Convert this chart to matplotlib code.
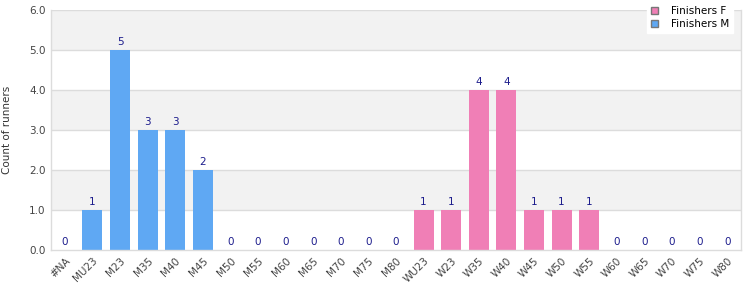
import matplotlib
matplotlib.use("Agg")
import matplotlib.pyplot as plt
from matplotlib.patches import Patch

categories = ["#NA", "MU23", "M23", "M35", "M40", "M45", "M50", "M55", "M60", "M65", "M70", "M75", "M80",
              "WU23", "W23", "W35", "W40", "W45", "W50", "W55", "W60", "W65", "W70", "W75", "W80"]
male_values = [0, 1, 5, 3, 3, 2, 0, 0, 0, 0, 0, 0, 0]
female_values = [1, 1, 4, 4, 1, 1, 1, 0, 0, 0, 0, 0]
yticks = [0, 1, 2, 3, 4, 5, 6]

blue = "#5fa8f3"
pink = "#f07fb6"
label_color = "#1c1c8c"
grid_color = "#dcdcdc"

fig = plt.figure(figsize=(7.5, 3.0), dpi=100)
ax = fig.add_axes([51/750, 1 - 250/300, 690/750, 240/300])

n_m = len(male_values)
xs_m = list(range(n_m))
xs_f = list(range(n_m, n_m + len(female_values)))
values = male_values + female_values
colors = [blue] * n_m + [pink] * len(female_values)
xs = xs_m + xs_f

ax.set_xlim(-0.5, len(categories) - 0.5)
ax.set_ylim(0, 6)

# alternating background bands
for i in range(6):
    if i % 2 == 1:
        ax.axhspan(i, i + 1, color="#f2f2f2", zorder=0, lw=0)
for y in yticks[1:]:
    ax.axhline(y, color=grid_color, lw=1, zorder=1)

ax.bar(xs, values, width=0.72, color=colors, zorder=2)
for x, v in zip(xs, values):
    ax.text(x, v + 0.08, str(v), ha="center", va="bottom", fontsize=7.5, color=label_color, zorder=3)

ax.set_yticks(yticks)
ax.set_yticklabels([f"{y:.1f}" for y in yticks], fontsize=7.5, color="#444444")
ax.set_xticks(range(len(categories)))
ax.set_xticklabels(categories, rotation=45, ha="right", rotation_mode="anchor", fontsize=7.5, color="#444444")
ax.tick_params(axis="both", length=0, pad=4)
ax.set_ylabel("Count of runners", fontsize=7.5, color="#333333", labelpad=12)

ax.spines["top"].set_visible(False)
for side in ["left", "bottom", "right"]:
    ax.spines[side].set_color(grid_color)
    ax.spines[side].set_linewidth(1)

handles = [Patch(facecolor=pink, edgecolor="#777777", label="Finishers F"),
           Patch(facecolor=blue, edgecolor="#777777", label="Finishers M")]
leg = fig.legend(handles=handles, loc="upper right", bbox_to_anchor=(738/750, 1.01),
                 fontsize=7.5, frameon=True, fancybox=False, edgecolor="white",
                 handlelength=0.7, handleheight=0.7, borderpad=0.35, labelspacing=0.35,
                 handletextpad=1.2)
leg.get_frame().set_facecolor("white")
leg.get_frame().set_alpha(1)
leg.set_zorder(10)

fig.savefig("out.png", dpi=100)
